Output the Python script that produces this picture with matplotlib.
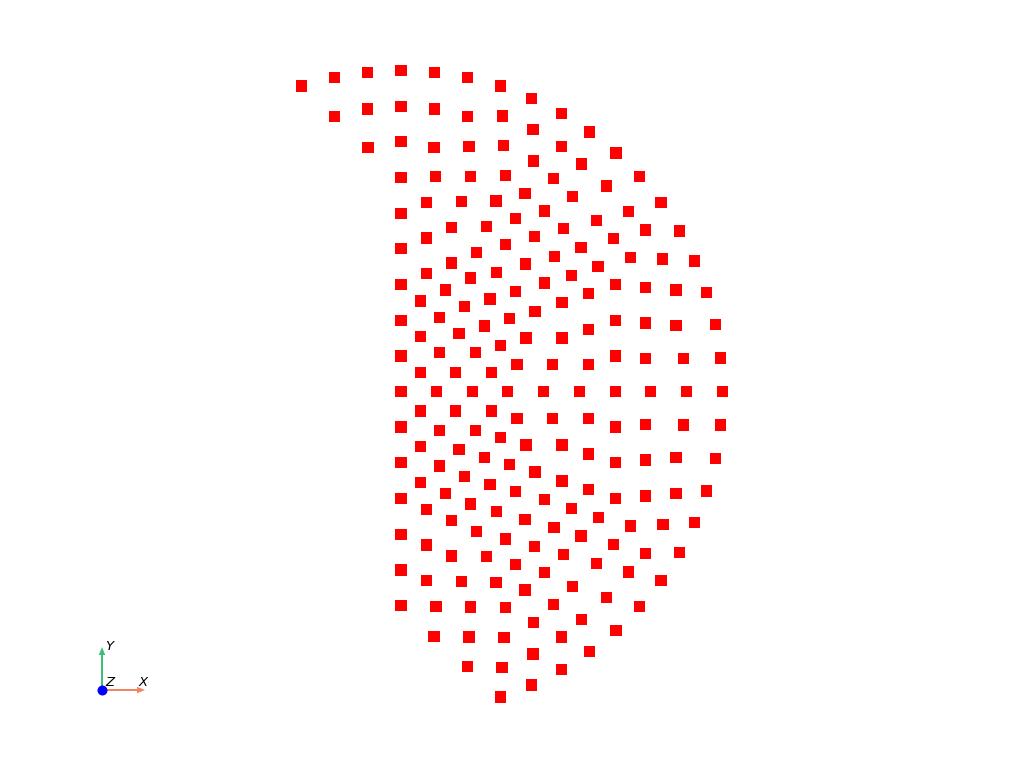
import matplotlib
matplotlib.use("Agg")
import matplotlib.pyplot as plt
import numpy as np

top_x = [-99.3, -66.7, -33.7, 0, 33.3, 66.7, 99.5, 130.7, 160.3, 188.3, 215, 238.7, 260, 278.3,
         293.3, 305.3, 314.3, 319.3,
         -66.7, -33.7, 0, 33.3, 66.3, 101.3, 132, 160.3, 180.3, 205.3, 227.3, 244.3, 261.7, 275,
         275, 282.3,
         -33, 0, 33, 68, 102.7, 132.3, 152.3, 171.3, 195.3, 212.7, 229.3, 244.7, 244.7, 244.7,
         0, 34.7, 69.7, 104.5, 124, 143.3, 162.7, 180, 197, 214.3, 214.3, 214.3,
         25.3, 60.3, 95, 114.3, 133.7, 153.3, 170.3, 187.7, 187.7, 187.7,
         0, 50.3, 85.3, 25.3, 104.5, 75.7, 124.3, 0, 50.3, 25.3, 69.3, 95.2, 143.3, 161, 161, 151.5,
         0, 44.3, 114.3, 19.3, 63.7, 89, 134, 0, 38.3, 108.7, 83.3, 19.3, 58, 125, 99.3,
         0, 38.3, 74.3, 19.3, 54.7, 90.7, 116]
top_y = [305.3, 314, 319, 321, 319, 314, 305.3, 293, 278, 259.3, 238.3, 214.6, 188.6, 160.3,
         130.3, 99, 66.6, 33.3,
         275, 282.3, 285, 282.3, 275, 275.3, 262, 245, 227.3, 205.3, 179.6, 161.3, 132.3, 101.3,
         66, 33,
         244, 249.6, 244, 245, 245.6, 230.3, 212.6, 195, 171, 152.6, 134, 104, 68.3, 33,
         214, 214.6, 215, 215.6, 198, 180.3, 162.6, 144, 125, 106.6, 71, 35.3,
         189, 189.6, 190.3, 172.6, 154.6, 135, 116, 97.6, 62, 26.6,
         178, 164, 165, 153.3, 147, 139, 127.3, 142.6, 128.3, 117.8, 113.3, 119, 108.3, 89, 53.3, 26.6,
         107, 101.3, 100, 90.3, 85, 92.3, 80, 71, 74, 72.6, 65.3, 55, 58, 53.3, 46,
         35.3, 38.6, 38.6, 19, 19, 19, 26.6]

mid_x = [0, 35.7, 71.3, 106.7, 142.3, 178.3, 214.3, 249.7, 285.3, 321.3]
mid_y = [0, 0, 0, 0, 0, 0, 0, 0, 0, 0]

bottom_x = [19.3, 54.7, 90.7, 116, 151.3, 0, 38.3, 74.3, 99.3, 125, 161, 19.3, 58, 83.3, 108.7,
            0, 38.3, 63.7, 134, 19.3, 89, 161, 44.3, 114.3,
            187.7, 214.3, 244.7, 282.3, 319.3, 187.7, 214.3, 244.7, 275, 314.3,
            187.7, 214.3, 244.7, 275, 305.3, 170.3, 197.3, 229.3, 262, 293.3,
            153, 180, 212.3, 244.7, 278.3, 162.3, 195.3, 227.3, 260, 171.3, 205.3, 238.7,
            152.3, 180.3, 215, 160.7, 188.3, 160.7,
            0, 143.3, 25.3, 69.3, 95.3, 124, 50.3, 0, 75.3, 104.3, 25.3, 133.3, 50.3, 85.3, 114.3,
            0, 143.3, 25.3, 60.3, 95, 124, 0, 35, 69.7, 104.7, 132.7, 33, 68, 103, 132,
            66.3, 101, 130.7, 99.3]
bottom_y = [-19.7, -19.7, -19.7, -27, -27, -35.7, -39, -39, -46.4, -53.7, -53.7, -55.4, -58.4, -66, -73,
            -71.4, -74.7, -85.4, -80.7, -91, -93, -89.7, -102, -100.4,
            -27, -35.7, -33.4, -33.7, -33.7, -62.7, -71.4, -68.7, -66.4, -67,
            -98, -107.4, -104.7, -102.4, -99.7, -117, -126, -134.7, -133, -131,
            -136, -144.7, -153, -162, -161, -163, -172, -180.7, -189, -195.4, -206, -215.4,
            -213, -228, -239, -245.7, -260, -278.4,
            -107.4, -108, -118, -112.7, -120, -128, -129, -143, -140, -147.7, -153.7, -155.4, -164.7, -165.4, -173.4,
            -178.7, -181, -189.4, -190.4, -191, -198.7, -214.4, -215, -215.7, -216.4, -231, -245, -245.7, -246, -262.7,
            -275.4, -276, -293.7, -305.7]

x = np.array(top_x + mid_x + bottom_x)
y = np.array(top_y + mid_y + bottom_y)

fig = plt.figure(figsize=(10.24, 7.68), dpi=100)
ax = fig.add_axes([0, 0, 1, 1])
ax.scatter(x, y, s=64, marker='s', color='#ff0000', edgecolors='none')
ax.set_xlim(-401, 623)
ax.set_ylim(-376.7, 391.3)
ax.set_aspect('equal')
ax.axis('off')

# orientation widget in the lower left corner
w = fig.add_axes([85 / 1024, 1 - 705 / 768, 70 / 1024, 70 / 768])
w.set_xlim(0, 70)
w.set_ylim(70, 0)
w.axis('off')
w.arrow(17, 55, 43, 0, width=2.0, head_width=6.5, head_length=8,
        length_includes_head=True, color='#f4845f', lw=0)
w.arrow(17, 55, 0, -43, width=2.0, head_width=6.5, head_length=8,
        length_includes_head=True, color='#3dbf7a', lw=0)
w.scatter([17], [55], s=38, color='#0000ff', zorder=5)
w.text(20, 12, 'Y', fontsize=9.5, style='italic', ha='left', va='center')
w.text(20, 48, 'Z', fontsize=9.5, style='italic', ha='left', va='center')
w.text(54, 48, 'X', fontsize=9.5, style='italic', ha='left', va='center')

fig.savefig('out.png', dpi=100)
